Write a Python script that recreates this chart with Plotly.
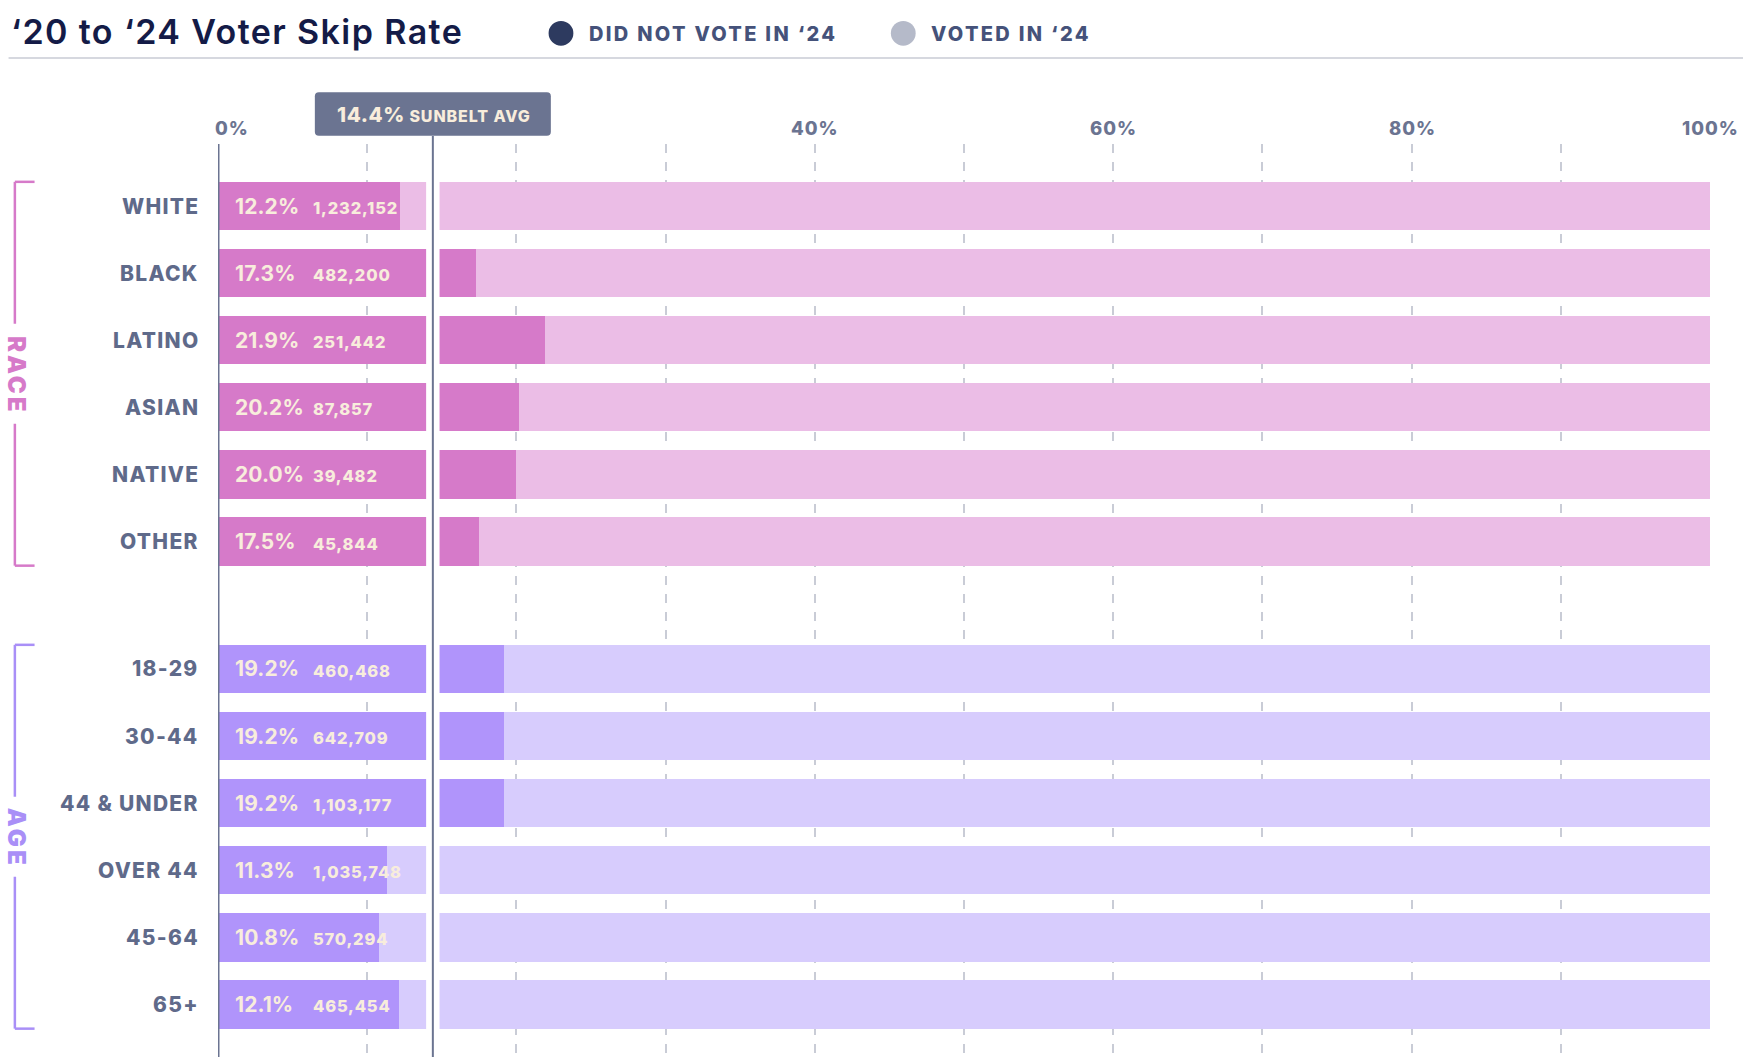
import plotly.graph_objects as go

# ---------------- data ----------------
race_labels = ["WHITE", "BLACK", "LATINO", "ASIAN", "NATIVE", "OTHER"]
race_skip = [12.2, 17.3, 21.9, 20.2, 20.0, 17.5]
race_counts = ["1,232,152", "482,200", "251,442", "87,857", "39,482", "45,844"]

age_labels = ["18-29", "30-44", "44 & UNDER", "OVER 44", "45-64", "65+"]
age_skip = [19.2, 19.2, 19.2, 11.3, 10.8, 12.1]
age_counts = ["460,468", "642,709", "1,103,177", "1,035,748", "570,294", "465,454"]

sunbelt_avg = 14.4
x_tick_values = [0, 40, 60, 80, 100]
group_names = ["RACE", "AGE"]
legend_names = ["DID NOT VOTE IN \u201824", "VOTED IN \u201824"]
title_text = "\u201820 to \u201824 Voter Skip Rate"

# ---------------- layout helpers ----------------
W, H = 1750, 1057
L, R = 217.5, 40
T, B = 144, 0
PW, PH = W - L - R, H - T - B
ROW_PX = 67.1


def px(x):
    return (x - L) / PW


def py(y):
    return 1 - (y - T) / PH


def ls(text, sp, extra=""):
    return f"<span style='letter-spacing:{sp}px;{extra}'>{text}</span>"


FONT = "Inter"
SLATE = "#6b7491"
LABEL = "#5f6a8a"
CREAM = "#f8eddc"
RACE_DARK, RACE_LIGHT = "#d67ac9", "#ebbde6"
AGE_DARK, AGE_LIGHT = "#b094fb", "#d7ccfd"
BAR_W = 0.72

GAP_ROWS = 1.9
race_pos = [i for i in range(len(race_labels))]
age_pos = [len(race_labels) - 1 + GAP_ROWS + i for i in range(len(age_labels))]
y_top = -(206 - T) / ROW_PX
y_bot = y_top + PH / ROW_PX

ys = race_pos + age_pos
skip = race_skip + age_skip
voted = [round(100 - v, 1) for v in skip]
labels = race_labels + age_labels
counts = race_counts + age_counts
dark = [RACE_DARK] * len(race_labels) + [AGE_DARK] * len(age_labels)
light = [RACE_LIGHT] * len(race_labels) + [AGE_LIGHT] * len(age_labels)

fig = go.Figure()
fig.add_trace(go.Bar(y=ys, x=skip, orientation="h", width=BAR_W,
                     marker=dict(color=dark, line=dict(width=0)),
                     name=legend_names[0], hoverinfo="skip"))
fig.add_trace(go.Bar(y=ys, x=voted, orientation="h", width=BAR_W,
                     marker=dict(color=light, line=dict(width=0)),
                     name=legend_names[1], hoverinfo="skip"))

shapes = []
ann = []


def A(**kw):
    kw.setdefault("showarrow", False)
    kw.setdefault("yanchor", "middle")
    kw.setdefault("xanchor", "center")
    ann.append(kw)


# white break around the average line
shapes.append(dict(type="rect", xref="x", yref="paper", x0=sunbelt_avg - 0.45, x1=sunbelt_avg + 0.45,
                   y0=0, y1=1, fillcolor="white", line=dict(width=0), layer="above"))
# zero axis line
shapes.append(dict(type="line", xref="x", yref="paper", x0=0, x1=0, y0=0, y1=1,
                   line=dict(color=SLATE, width=3), layer="above"))
# average line
shapes.append(dict(type="line", xref="x", yref="paper", x0=sunbelt_avg, x1=sunbelt_avg, y0=0, y1=py(136),
                   line=dict(color=SLATE, width=2), layer="above"))
# average box (rounded)
hw, hh, r = 118, 21.7, 4
path = (f"M {-hw + r},{-hh} L {hw - r},{-hh} Q {hw},{-hh} {hw},{-hh + r} L {hw},{hh - r} "
        f"Q {hw},{hh} {hw - r},{hh} L {-hw + r},{hh} Q {-hw},{hh} {-hw},{hh - r} "
        f"L {-hw},{-hh + r} Q {-hw},{-hh} {-hw + r},{-hh} Z")
shapes.append(dict(type="path", xref="x", yref="paper", xsizemode="pixel", ysizemode="pixel",
                   xanchor=sunbelt_avg, yanchor=py(114), path=path,
                   fillcolor=SLATE, line=dict(width=0), layer="above"))
A(x=sunbelt_avg, xref="x", y=py(114), yref="paper", xshift=1,
  text=ls(f"{sunbelt_avg:.1f}%", 0.6) + " " + ls("SUNBELT AVG", 0.9, "font-size:16px"),
  font=dict(family=FONT, size=20.5, color=CREAM, weight=800))

# tick labels
for t in x_tick_values:
    A(x=t, xref="x", y=py(128), yref="paper",
      text=ls(f"{t}%", 1.0), xanchor="left" if t == 0 else "center",
      xshift=-5 if t == 0 else 0.5,
      font=dict(family=FONT, size=18.5, color=SLATE, weight=800))

# category labels + in-bar labels
for y, lab, v, c in zip(ys, labels, skip, counts):
    A(x=0, xref="x", y=y, yref="y", text=ls(lab, 1.3), xanchor="right", xshift=-17.5,
      font=dict(family=FONT, size=21, color=LABEL, weight=800))
    A(x=0, xref="x", y=y, yref="y", text=ls(f"{v:.1f}%", 0.1), xanchor="left", xshift=14.5,
      font=dict(family=FONT, size=21, color=CREAM, weight=750))
    A(x=0, xref="x", y=y, yref="y", text=ls(c, 0.8), xanchor="left", xshift=92.5, yshift=-2,
      font=dict(family=FONT, size=16.5, color=CREAM, weight=800))

# group brackets
groups = [(group_names[0], race_pos, RACE_DARK), (group_names[1], age_pos, "#a98ff7")]
bx, btick = px(14.3), px(34)
for name, pos, col in groups:
    top, bot = pos[0] - BAR_W / 2, pos[-1] + BAR_W / 2
    mid = (top + bot) / 2
    half_gap = (len(name) * 10 + 10) / ROW_PX
    ln = dict(color=col, width=2.5)
    shapes += [
        dict(type="line", xref="paper", yref="y", x0=bx, x1=btick, y0=top, y1=top, line=ln),
        dict(type="line", xref="paper", yref="y", x0=bx, x1=btick, y0=bot, y1=bot, line=ln),
        dict(type="line", xref="paper", yref="y", x0=bx, x1=bx, y0=top, y1=mid - half_gap, line=ln),
        dict(type="line", xref="paper", yref="y", x0=bx, x1=bx, y0=mid + half_gap, y1=bot, line=ln),
    ]
    A(x=bx, xref="paper", y=mid, yref="y", text=ls(name, 3.0), textangle=90, yshift=-1.5, xshift=1.5,
      font=dict(family=FONT, size=24, color=col, weight=900))

# title, legend, rule
A(x=px(8), xref="paper", y=py(32), yref="paper", text=ls(title_text, 1.4), xanchor="left",
  font=dict(family=FONT, size=34, color="#141b47", weight=600))
leg_cols = ["#2d3a5f", "#b5bac9"]
leg_cx = [560.6, 903]
for name, col, cx in zip(legend_names, leg_cols, leg_cx):
    shapes.append(dict(type="circle", xref="paper", yref="paper",
                       x0=px(cx - 12.4), x1=px(cx + 12.4), y0=py(33.3 + 12.4), y1=py(33.3 - 12.4),
                       fillcolor=col, line=dict(width=0)))
    A(x=px(cx + 26), xref="paper", y=py(34), yref="paper", text=ls(name, 2.3), xanchor="left",
      font=dict(family=FONT, size=20, color="#45527a", weight=800))
shapes.append(dict(type="line", xref="paper", yref="paper", x0=px(8), x1=px(1743), y0=py(58), y1=py(58),
                   line=dict(color="#d6d8df", width=2)))

fig.update_layout(
    width=W, height=H, margin=dict(l=L, r=R, t=T, b=B, pad=0),
    paper_bgcolor="white", plot_bgcolor="white",
    barmode="stack", bargap=0, showlegend=False,
    xaxis=dict(range=[0, 100], showgrid=True, gridcolor="#c9ccd6", griddash="dash", gridwidth=1.5,
               tick0=0, dtick=10, showticklabels=False, zeroline=False, showline=False, fixedrange=True),
    yaxis=dict(range=[y_bot, y_top], showgrid=False, showticklabels=False, zeroline=False,
               showline=False, fixedrange=True),
    shapes=shapes, annotations=ann,
    font=dict(family=FONT),
)

fig.write_html("out.html", config={"displayModeBar": False},
               post_script="document.body.style.margin='0';document.body.style.overflow='hidden';")
